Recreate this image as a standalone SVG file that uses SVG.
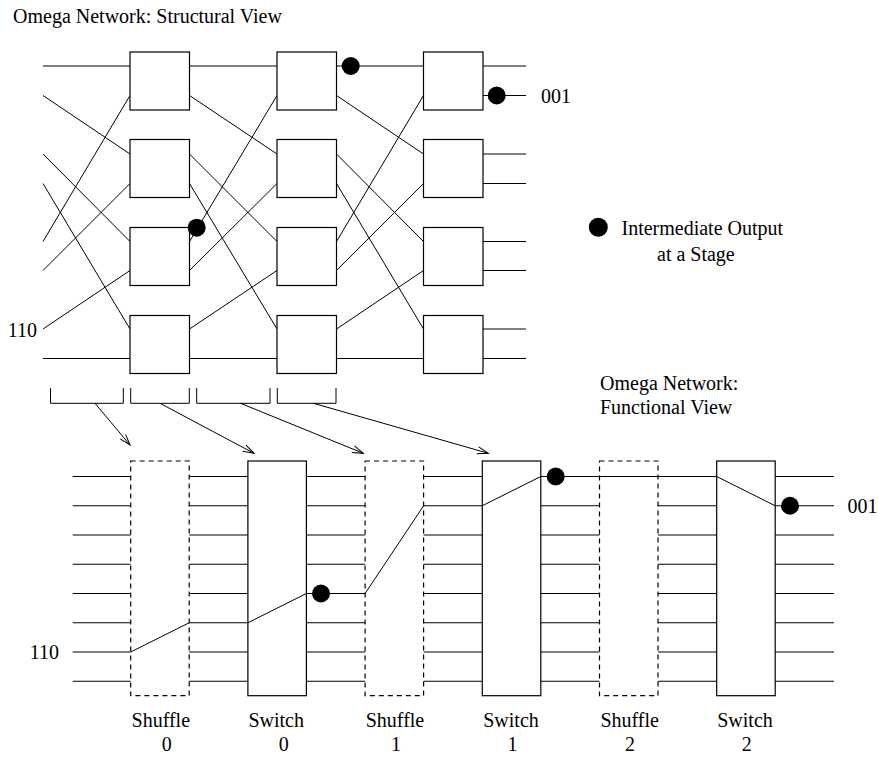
<svg xmlns="http://www.w3.org/2000/svg" width="878" height="762" viewBox="0 0 878 762">
<style>
text{font-family:"Liberation Serif","Times New Roman",serif;font-size:20px;fill:#000}
.ln{stroke:#000;stroke-width:1;fill:none}
.box{stroke:#000;stroke-width:1.2;fill:#fff}
.dash{stroke:#000;stroke-width:1.2;fill:none;stroke-dasharray:5,4}
.dot{fill:#000}
.m{text-anchor:middle}
</style>
<defs>
<marker id="arr" markerUnits="userSpaceOnUse" markerWidth="14" markerHeight="10" refX="12" refY="5" orient="auto" overflow="visible">
<path d="M1,1.5 L12,5 L1,8.5" fill="none" stroke="#000" stroke-width="1"/>
</marker>
</defs>
<rect width="878" height="762" fill="#fff"/>
<text x="13" y="23">Omega Network: Structural View</text>

<g id="connectors">
<path class="ln" d="M43,66H130 M43,95.5L130,154 M43,154L130,241.5 M43,183.5L130,329 M43,241.5L130,95.5 M43,270.5L130,183.5 M43,329L130,270.5 M43,358.5H130"/>
<path class="ln" d="M189.5,66H277 M189.5,95.5L277,154 M189.5,154L277,241.5 M189.5,183.5L277,329 M189.5,241.5L277,95.5 M189.5,270.5L277,183.5 M189.5,329L277,270.5 M189.5,358.5H277"/>
<path class="ln" d="M336.5,66H423.5 M336.5,95.5L423.5,154 M336.5,154L423.5,241.5 M336.5,183.5L423.5,329 M336.5,241.5L423.5,95.5 M336.5,270.5L423.5,183.5 M336.5,329L423.5,270.5 M336.5,358.5H423.5"/>
<path class="ln" d="M483,66H526 M483,95.5H526 M483,154H526 M483,183.5H526 M483,241.5H526 M483,270.5H526 M483,329H526 M483,358.5H526"/>
<path class="ln" d="M50.5,388V403.3H123.3V388 M130.7,388V403.3H189.3V388 M196.7,388V403.3H270V388 M277.3,388V403.3H336V388"/>
<line class="ln" x1="95" y1="403.3" x2="130" y2="445" marker-end="url(#arr)"/>
<line class="ln" x1="160" y1="403.3" x2="254" y2="453.3" marker-end="url(#arr)"/>
<line class="ln" x1="240.5" y1="403.3" x2="363.3" y2="453.3" marker-end="url(#arr)"/>
<line class="ln" x1="313.5" y1="403.3" x2="488.3" y2="453.3" marker-end="url(#arr)"/>
<g class="ln">
<path d="M72.7,476.5H130.7 M72.7,505.75H130.7 M72.7,535H130.7 M72.7,564.25H130.7 M72.7,593.5H130.7 M72.7,622.75H130.7 M72.7,652H130.7 M72.7,681.25H130.7"/>
<path d="M189.2,476.5H247.9 M189.2,505.75H247.9 M189.2,535H247.9 M189.2,564.25H247.9 M189.2,593.5H247.9 M189.2,622.75H247.9 M189.2,652H247.9 M189.2,681.25H247.9"/>
<path d="M306.4,476.5H365.1 M306.4,505.75H365.1 M306.4,535H365.1 M306.4,564.25H365.1 M306.4,593.5H365.1 M306.4,622.75H365.1 M306.4,652H365.1 M306.4,681.25H365.1"/>
<path d="M423.6,476.5H482.3 M423.6,505.75H482.3 M423.6,535H482.3 M423.6,564.25H482.3 M423.6,593.5H482.3 M423.6,622.75H482.3 M423.6,652H482.3 M423.6,681.25H482.3"/>
<path d="M540.8,476.5H599.5 M540.8,505.75H599.5 M540.8,535H599.5 M540.8,564.25H599.5 M540.8,593.5H599.5 M540.8,622.75H599.5 M540.8,652H599.5 M540.8,681.25H599.5"/>
<path d="M658,476.5H716.7 M658,505.75H716.7 M658,535H716.7 M658,564.25H716.7 M658,593.5H716.7 M658,622.75H716.7 M658,652H716.7 M658,681.25H716.7"/>
<path d="M775.2,476.5H834 M775.2,505.75H834 M775.2,535H834 M775.2,564.25H834 M775.2,593.5H834 M775.2,622.75H834 M775.2,652H834 M775.2,681.25H834"/>
</g>
</g>

<g id="structural-switches">
<g id="s0"><rect class="box" x="130" y="52" width="59.5" height="58"/><rect class="box" x="130" y="139.5" width="59.5" height="58"/><rect class="box" x="130" y="227.5" width="59.5" height="58"/><rect class="box" x="130" y="315.5" width="59.5" height="58"/></g>
<g id="s1"><rect class="box" x="277" y="52" width="59.5" height="58"/><rect class="box" x="277" y="139.5" width="59.5" height="58"/><rect class="box" x="277" y="227.5" width="59.5" height="58"/><rect class="box" x="277" y="315.5" width="59.5" height="58"/></g>
<g id="s2"><rect class="box" x="423.5" y="52" width="59.5" height="58"/><rect class="box" x="423.5" y="139.5" width="59.5" height="58"/><rect class="box" x="423.5" y="227.5" width="59.5" height="58"/><rect class="box" x="423.5" y="315.5" width="59.5" height="58"/></g>
</g>

<g id="functional-stages">
<g id="shuffle0"><rect class="dash" x="130.7" y="461" width="58.5" height="234.7"/></g>
<g id="switch0"><rect class="box" x="247.9" y="461" width="58.5" height="234.7"/></g>
<g id="shuffle1"><rect class="dash" x="365.1" y="461" width="58.5" height="234.7"/></g>
<g id="switch1"><rect class="box" x="482.3" y="461" width="58.5" height="234.7"/></g>
<g id="shuffle2"><rect class="dash" x="599.5" y="461" width="58.5" height="234.7"/></g>
<g id="switch2"><rect class="box" x="716.7" y="461" width="58.5" height="234.7"/></g>
</g>

<g id="paths">
<path class="ln" d="M130.7,652L189.2,622.75 M247.9,622.75L306.4,593.5 M365.1,593.5L423.6,505.75 M482.3,505.75L540.8,476.5 M599.5,476.5H658 M716.7,476.5L775.2,505.75"/>
<circle class="dot" cx="196.7" cy="227.7" r="9"/>
<circle class="dot" cx="350.7" cy="66" r="9"/>
<circle class="dot" cx="496.7" cy="95.5" r="9"/>
<circle class="dot" cx="321" cy="593.5" r="9"/>
<circle class="dot" cx="555.7" cy="476.5" r="9"/>
<circle class="dot" cx="790" cy="505.75" r="9"/>
</g>

<g id="labels">
<text x="37" y="336.5" text-anchor="end">110</text>
<text x="541" y="103">001</text>
<text x="59" y="659" text-anchor="end">110</text>
<text x="847.5" y="512.5">001</text>
<g id="legend">
<circle class="dot" cx="598.3" cy="227.3" r="9.5"/>
<text x="621.5" y="235">Intermediate Output</text>
<text x="657" y="261">at a Stage</text>
</g>
<text x="600" y="390">Omega Network:</text>
<text x="600" y="414">Functional View</text>
<text class="m" x="160.8" y="727">Shuffle</text><text class="m" x="166.7" y="751">0</text>
<text class="m" x="276.2" y="727">Switch</text><text class="m" x="283.8" y="751">0</text>
<text class="m" x="395" y="727">Shuffle</text><text class="m" x="396" y="751">1</text>
<text class="m" x="511" y="727">Switch</text><text class="m" x="512.5" y="751">1</text>
<text class="m" x="629.7" y="727">Shuffle</text><text class="m" x="630" y="751">2</text>
<text class="m" x="745" y="727">Switch</text><text class="m" x="746.7" y="751">2</text>
</g>
</svg>
